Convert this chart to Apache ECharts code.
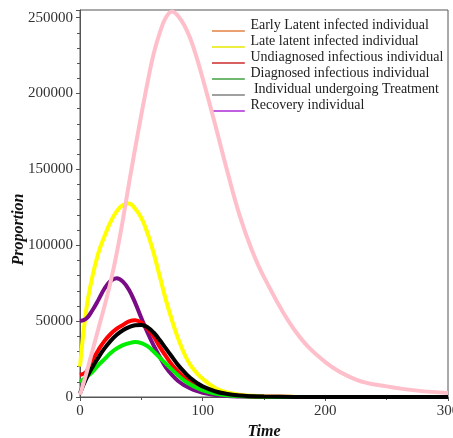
<!DOCTYPE html>
<html>
<head>
<meta charset="utf-8">
<script src="https://cdn.jsdelivr.net/npm/echarts@6/dist/echarts.min.js"></script>
<style>
html,body{margin:0;padding:0;background:#fff;}
#chart{width:453px;height:438px;}
</style>
</head>
<body>
<div id="chart"></div>
<script>
// Time points (x values)
const times = [0,5,10,15,20,25,30,35,40,45,50,55,60,65,70,75,80,85,90,95,100,110,120,130,140,150,175,200,225,250,275,300];

// Series values
const earlyLatent = [20000,57000,79000,95000,106000,115500,122500,126500,127500,124000,118000,108000,95000,79500,64000,50500,38500,28500,21000,16000,12000,6000,3000,1500,750,380,100,30,10,5,2,0];
const lateLatent  = [14500,16500,24000,31000,37000,41500,45000,47500,49800,50500,49000,45000,40000,33000,27000,21300,16700,12800,9700,7300,5500,3000,1600,800,400,200,50,15,5,2,1,0];
const undiagnosed = [10000,13000,16500,21000,25000,29000,32000,34200,35500,36200,35500,33500,30000,26000,22000,18000,14200,10800,8200,6100,4400,2200,1200,600,300,150,40,10,3,1,0,0];
const diagnosed   = [2500,12000,19500,26000,32000,37000,41000,44000,46000,47300,47500,46000,42500,37500,32000,26500,21000,16500,12500,9500,7000,3800,2000,1000,500,250,60,15,5,2,1,0];
const treatment   = [50000,51500,57000,64000,71500,76500,78300,76000,70500,62000,52000,42500,34000,26500,19500,14500,10500,7800,5700,4000,2800,1300,600,300,150,80,20,5,1,0,0,0];
const recovery    = [1500,15000,30000,45000,60000,76000,95000,117000,141000,164000,186000,207000,226000,240000,250000,254000,251000,245000,236000,224000,210000,180000,149000,120000,97000,79000,44000,23000,11500,7000,4200,2600];

// Tick / label settings
const yTickInterval = 50000;
const xTickInterval = 100;

const seriesNames = [
  'Early Latent infected individual',
  'Late latent infected individual',
  'Undiagnosed infectious individual',
  'Diagnosed infectious individual',
  ' Individual undergoing Treatment',
  'Recovery individual'
];
const curveColors  = ['#ffff00','#ff0000','#00ee00','#000000','#7a0a85','#ffbfca'];
const legendColors = ['#eaa070','#eeee40','#d86060','#70b870','#a0a0a0','#c060e0'];
const seriesData   = [earlyLatent, lateLatent, undiagnosed, diagnosed, treatment, recovery];
const drawOrder    = [0,4,1,2,3,5];

const chart = echarts.init(document.getElementById('chart'), null, {renderer:'canvas'});
const serif = 'Liberation Serif, Times New Roman, serif';

const series = drawOrder.map((i, k) => ({
  name: seriesNames[i],
  type: 'line',
  smooth: 0.4,
  symbol: 'none',
  z: 2 + k,
  lineStyle: {color: curveColors[i], width: 4},
  itemStyle: {color: curveColors[i]},
  data: times.map((t, j) => [t, seriesData[i][j]])
}));

chart.setOption({
  animation: false,
  backgroundColor: '#fff',
  grid: {left: 80, right: 5, top: 10, bottom: 41, show: true, borderColor: '#555', borderWidth: 1,
         containLabel: false, outerBoundsMode: 'none'},
  legend: {
    orient: 'vertical',
    left: 212, top: 18, padding: 0,
    itemWidth: 34, itemHeight: 14, itemGap: 2,
    icon: 'path://M0,0L0.01,0L0.01,0.01L0,0.01ZM0,12.5L34,12.5L34,14.5L0,14.5Z',
    itemStyle: {borderWidth: 0},
    textStyle: {fontFamily: serif, fontSize: 14, color: '#222'},
    data: seriesNames.map((n, i) => ({name: n, itemStyle: {color: legendColors[i], borderWidth: 0}}))
  },
  xAxis: {
    type: 'value', min: 0, max: 300, interval: xTickInterval,
    name: 'Time', nameLocation: 'middle', nameGap: 25,
    nameTextStyle: {fontFamily: serif, fontSize: 16, fontWeight: 'bold', fontStyle: 'italic', color: '#111'},
    axisLine: {lineStyle: {color: '#555'}},
    axisTick: {show: true, inside: false, length: 4, lineStyle: {color: '#555'}},
    minorTick: {show: true, splitNumber: 2, length: 3, lineStyle: {color: '#555'}},
    splitLine: {show: false},
    axisLabel: {fontFamily: serif, fontSize: 15, color: '#333', margin: 7}
  },
  yAxis: {
    type: 'value', min: 0, max: 255000, interval: yTickInterval,
    name: 'Proportion', nameLocation: 'middle', nameGap: 53, nameRotate: 90, nameMoveOverlap: false,
    nameTextStyle: {fontFamily: serif, fontSize: 16, fontWeight: 'bold', fontStyle: 'italic', color: '#111', padding: [0, 52, 0, 0]},
    axisLine: {show: true, lineStyle: {color: '#555'}},
    axisTick: {show: true, inside: false, length: 4, lineStyle: {color: '#555'}},
    minorTick: {show: true, splitNumber: 5, length: 3, lineStyle: {color: '#555'}},
    splitLine: {show: false},
    axisLabel: {fontFamily: serif, fontSize: 15, color: '#333', margin: 7,
      formatter: v => (v % yTickInterval === 0 ? String(v) : '')}
  },
  series: series
});
</script>
</body>
</html>
